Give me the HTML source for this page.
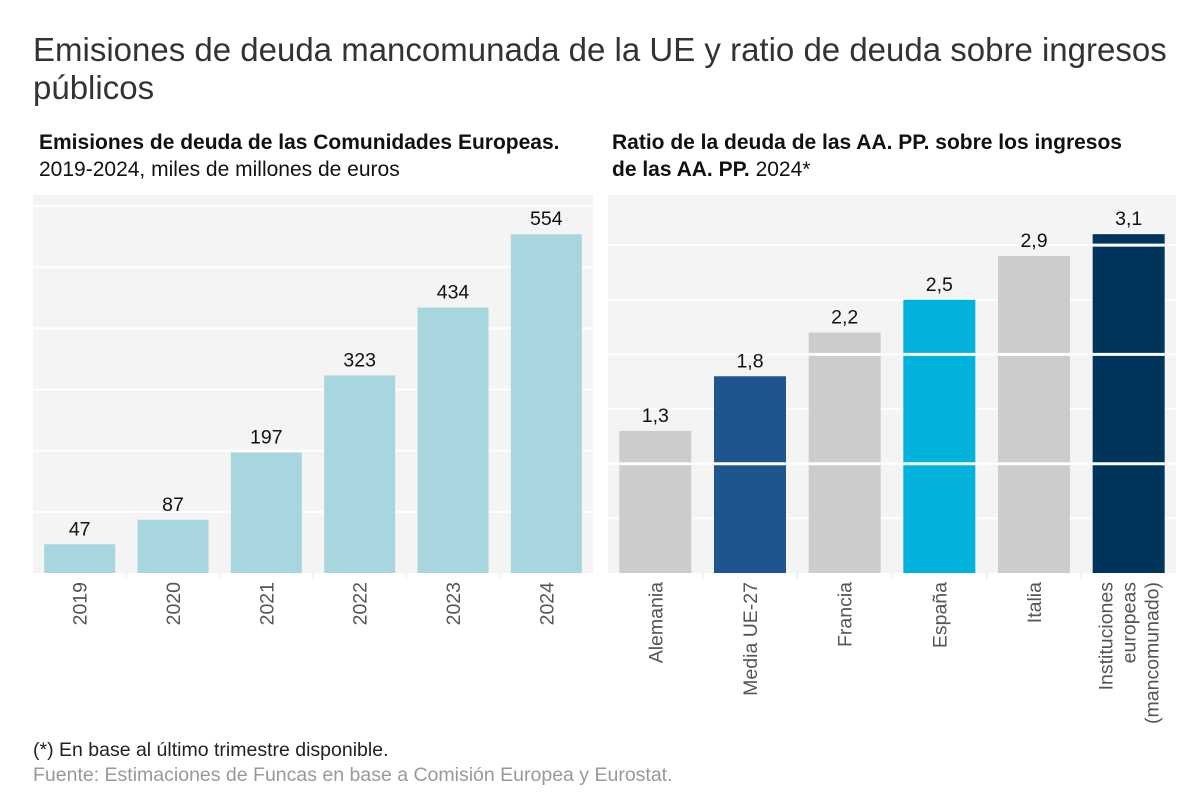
<!DOCTYPE html>
<html><head><meta charset="utf-8">
<style>
body{margin:0;background:#fff;}
svg{display:block;font-family:"Liberation Sans",Arial,sans-serif;}
</style></head>
<body>
<svg id="c" width="1200" height="809" viewBox="0 0 1200 809">
<text x="33" y="61" font-size="33" fill="#333">Emisiones de deuda mancomunada de la UE y ratio de deuda sobre ingresos</text>
<text x="33" y="99" font-size="33" fill="#333">públicos</text>
<text x="39" y="149" font-size="21" font-weight="bold" fill="#111">Emisiones de deuda de las Comunidades Europeas.</text>
<text x="39" y="176" font-size="21" fill="#111">2019-2024, miles de millones de euros</text>
<text x="612" y="149" font-size="21" font-weight="bold" fill="#111">Ratio de la deuda de las AA. PP. sobre los ingresos</text>
<text x="612" y="176" font-size="21" fill="#111"><tspan font-weight="bold">de las AA. PP.</tspan> 2024*</text>
<g id="left"></g>
<g id="right"></g>
<text x="33" y="756" font-size="19.5" fill="#222">(*) En base al último trimestre disponible.</text>
<text x="33" y="781" font-size="19.5" fill="#999">Fuente: Estimaciones de Funcas en base a Comisión Europea y Eurostat.</text>
</svg>
<script>
const leftCats=["2019","2020","2021","2022","2023","2024"];
const leftVals=[47,87,197,323,434,554];
const leftTicks=[100,200,300,400,500,600];
const rightCats=[["Alemania"],["Media UE-27"],["Francia"],["España"],["Italia"],["Instituciones","europeas","(mancomunado)"]];
const rightVals=[1.3,1.8,2.2,2.5,2.9,3.1];
const rightLabels=["1,3","1,8","2,2","2,5","2,9","3,1"];
const rightTicksMinor=[0.5,1.5,2.5];
const rightTicksMajor=[1,2,3];
const rightColors=["#cccccc","#1f558f","#cccccc","#00b2dc","#cccccc","#00345a"];
const NS="http://www.w3.org/2000/svg";
function mk(p,t,a){const e=document.createElementNS(NS,t);for(const k in a)e.setAttribute(k,a[k]);p.appendChild(e);return e;}
// left
(function(){
 const g=document.getElementById('left');
 const x0=33,x1=593,yTop=195,yBase=573;
 const y=v=>yBase-v*0.6115;
 const bw=(x1-x0)/leftCats.length;
 const bg=mk(g,'rect',{x:x0,y:yTop,width:x1-x0,height:yBase-yTop,fill:'#f4f4f4'});
 
 
 leftTicks.forEach(t=>{const l=mk(g,'line',{x1:x0,x2:x1,y1:y(t),y2:y(t),stroke:'#fff','stroke-width':2});
  
  });
 leftCats.forEach((c,i)=>{
  const cx=x0+bw*(i+0.5);
  const r=mk(g,'rect',{x:cx-35.5,y:y(leftVals[i]),width:71,height:yBase-y(leftVals[i]),fill:'#a7d6df'});
  
  
  const t=mk(g,'text',{x:cx,y:y(leftVals[i])-9,'font-size':19.5,'text-anchor':'middle',fill:'#111'});t.textContent=leftVals[i];
  
  
  const tl=mk(g,'text',{transform:`translate(${cx+7},582) rotate(-90)`,'font-size':19.5,'text-anchor':'end',fill:'#555'});tl.textContent=c;
  
  
  if(i>0){const tk=mk(g,'line',{x1:x0+bw*i,x2:x0+bw*i,y1:yBase,y2:yBase+6,stroke:'#e4e4e4'});
   
   }
 });
})();
// right
(function(){
 const g=document.getElementById('right');
 const x0=608,x1=1176,yTop=195,yBase=573;
 const y=v=>yBase-v*109.3;
 const bw=(x1-x0)/rightCats.length;
 const bg=mk(g,'rect',{x:x0,y:yTop,width:x1-x0,height:yBase-yTop,fill:'#f4f4f4'});
 
 
 rightTicksMinor.concat(rightTicksMajor).forEach(t=>{const l=mk(g,'line',{x1:x0,x2:x1,y1:y(t),y2:y(t),stroke:'#fff','stroke-width':2});
  
  });
 const texts=[];
 rightCats.forEach((c,i)=>{
  const cx=x0+bw*(i+0.5);
  const r=mk(g,'rect',{x:cx-36,y:y(rightVals[i]),width:72,height:yBase-y(rightVals[i]),fill:rightColors[i]});
  
  
  rightTicksMajor.forEach(tv=>{ if(tv<rightVals[i]){
   const l=mk(g,'line',{x1:cx-36,x2:cx+36,y1:y(tv),y2:y(tv),stroke:'#fff','stroke-width':3});
   
   }});
  texts.push([cx,i]);
  const n=c.length;
  c.forEach((s,j)=>{
   const tl=mk(g,'text',{transform:`translate(${cx+7+(j-(n-1)/2)*23},582) rotate(-90)`,'font-size':19.5,'text-anchor':'end',fill:'#555'});tl.textContent=s;
   
   
  });
  if(i>0){const tk=mk(g,'line',{x1:x0+bw*i,x2:x0+bw*i,y1:yBase,y2:yBase+6,stroke:'#e4e4e4'});
   
   }
 });
 texts.forEach(([cx,i])=>{
  const t=mk(g,'text',{x:cx,y:y(rightVals[i])-9,'font-size':19.5,'text-anchor':'middle',fill:'#111',stroke:'#f4f4f4','stroke-width':3,'paint-order':'stroke'});t.textContent=rightLabels[i];
  
  
 });
})();
</script>
</body></html>
